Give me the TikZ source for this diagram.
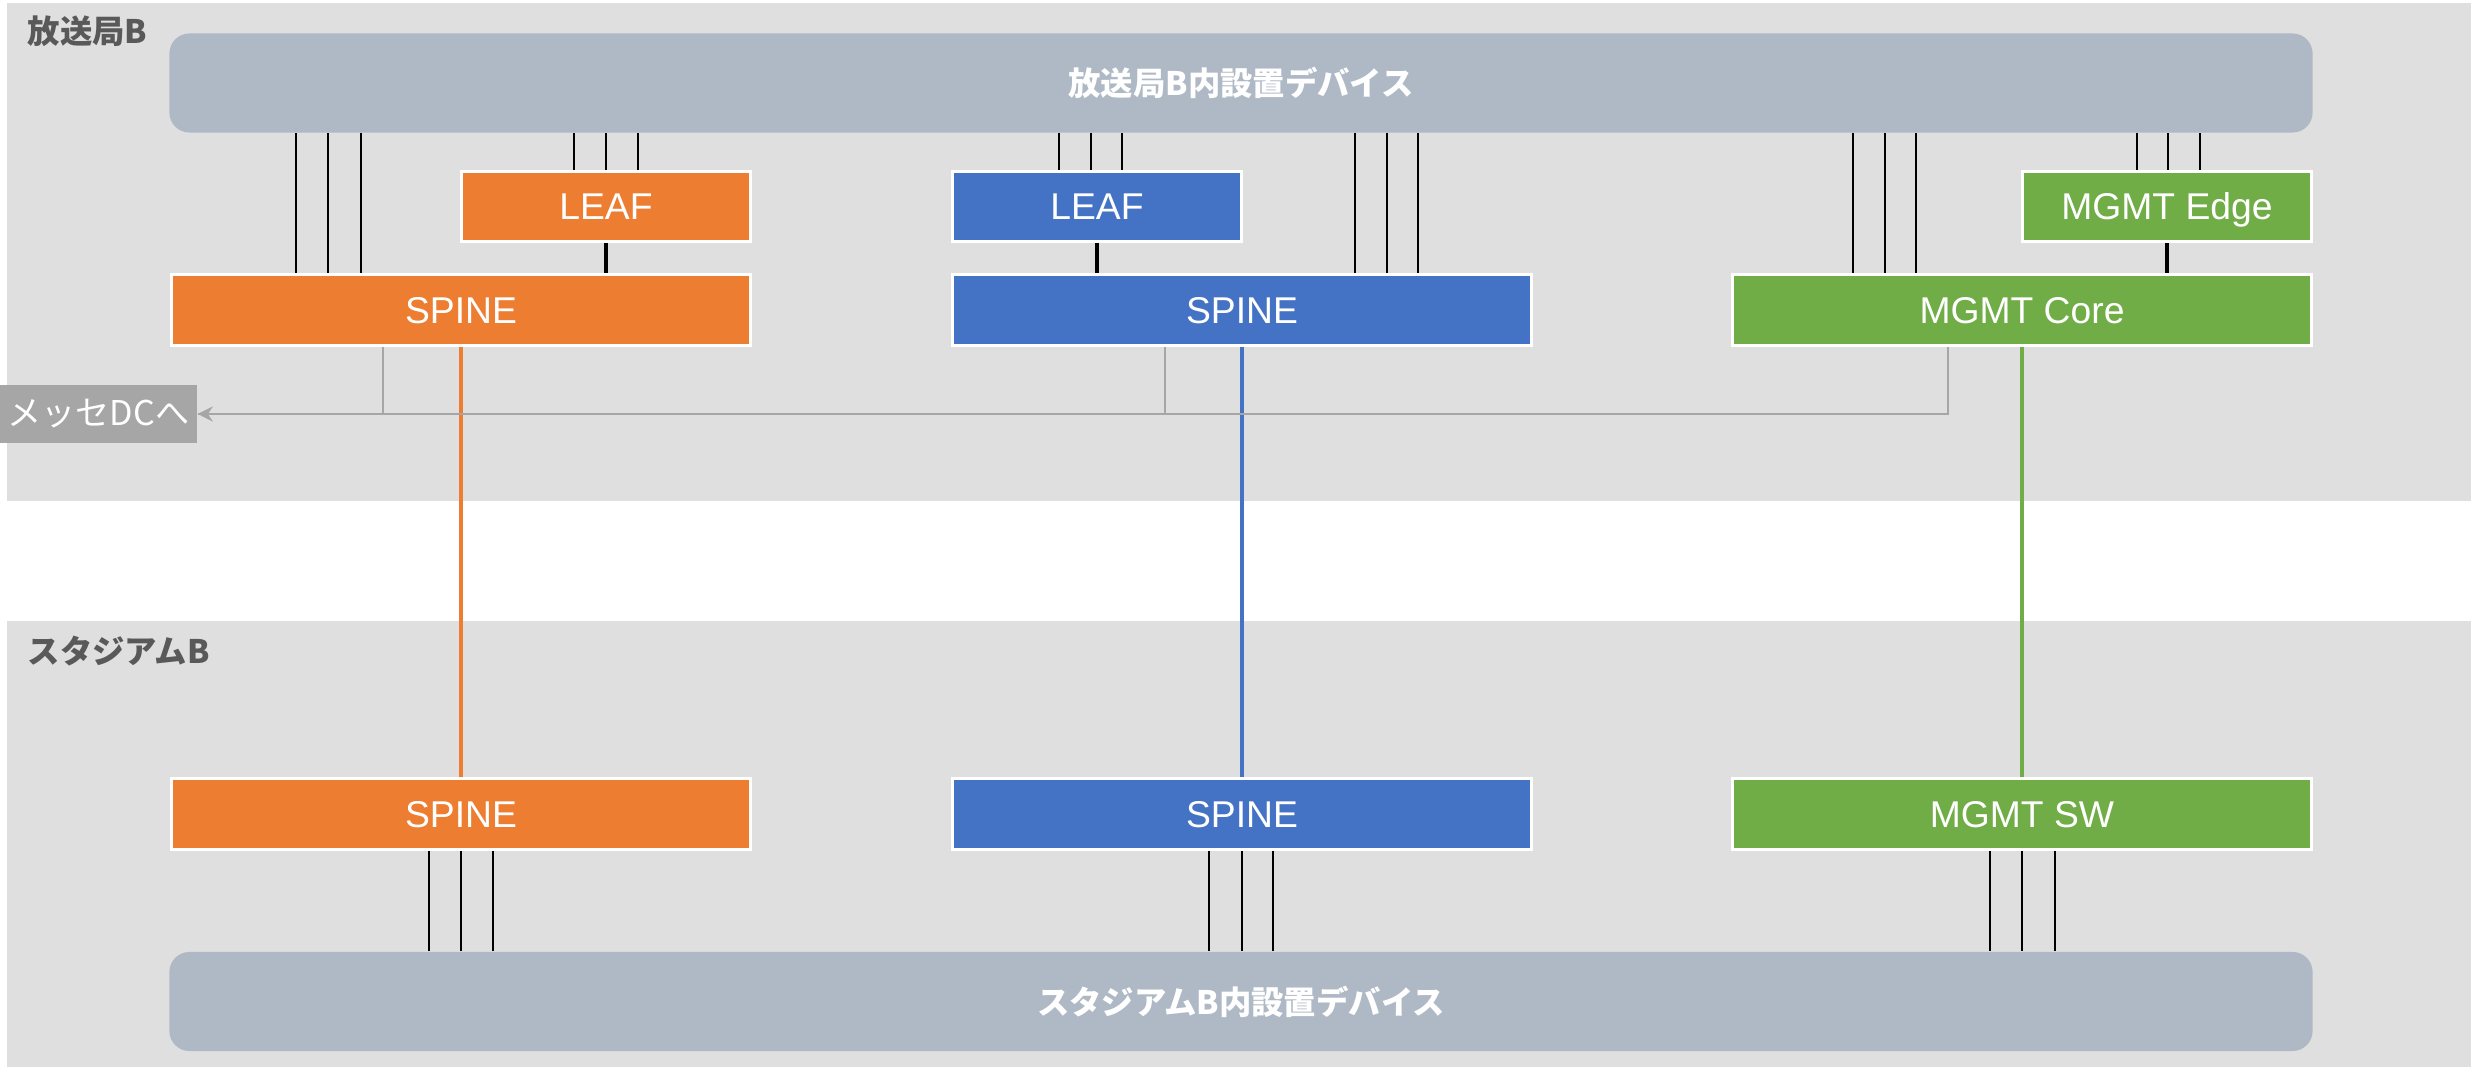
\documentclass[tikz,border=0pt]{standalone}
\usepackage{fontspec}
\setmainfont{Liberation Sans}
\newfontfamily\jp{Noto Sans CJK JP}
\usetikzlibrary{arrows.meta}
\definecolor{cOr}{HTML}{ED7D31}
\definecolor{cBl}{HTML}{4472C4}
\definecolor{cGr}{HTML}{70AD47}
\definecolor{cDev}{HTML}{AFB9C6}
\definecolor{cPanel}{HTML}{DFDFDF}
\definecolor{cTitle}{HTML}{595959}
\definecolor{cGray}{HTML}{A6A6A6}
\pgfdeclarelayer{panel}
\pgfdeclarelayer{links}
\pgfsetlayers{panel,links,main}
\begin{document}
\begin{tikzpicture}[x=0.01cm,y=-0.01cm,
  box/.style={draw=white, line width=0.03cm, text=white, inner sep=0pt,
    text height=7.6pt, text depth=0pt,
    font=\fontsize{10.6pt}{12pt}\selectfont},
  leafbox/.style={box, minimum width=2.88cm, minimum height=0.70cm},
  spinebox/.style={box, minimum width=5.79cm, minimum height=0.71cm},
  devbox/.style={fill=cDev, rounded corners=0.2cm, text=white, inner sep=0pt,
    minimum width=21.42cm, minimum height=0.99cm,
    font=\jp\bfseries\fontsize{9.2pt}{11pt}\selectfont},
  titletext/.style={anchor=west, inner sep=0pt, text=cTitle,
    font=\jp\bfseries\fontsize{9.2pt}{11pt}\selectfont},
  messebox/.style={fill=cGray, text=white, inner sep=0pt,
    minimum width=1.97cm, minimum height=0.58cm,
    font=\jp\fontsize{9.7pt}{11pt}\selectfont},
  blk/.style={draw=black, line width=0.02cm},
  thk/.style={draw=black, line width=0.045cm},
  vlink/.style={line width=0.035cm},
  glink/.style={draw=cGray, line width=0.028cm}
]
\useasboundingbox (0,0) rectangle (2471,1067);

% panels
\begin{pgfonlayer}{panel}
\fill[cPanel] (7,3) rectangle (2471,501);
\fill[cPanel] (7,621) rectangle (2471,1067);
\end{pgfonlayer}

\node[titletext] (t1) at (27,31) {放送局B};
\node[titletext] (t2) at (27,651) {スタジアムB};

% devices
\node[devbox] (dev1) at (1241,83) {放送局B内設置デバイス};
\node[devbox] (dev2) at (1241,1001.5) {スタジアムB内設置デバイス};

% top row
\node[leafbox, fill=cOr] (lo) at (606,206.5) {LEAF};
\node[leafbox, fill=cBl] (lb) at (1097,206.5) {LEAF};
\node[leafbox, fill=cGr] (le) at (2167,206.5) {MGMT Edge};

\node[spinebox, fill=cOr] (so1) at (461,310) {SPINE};
\node[spinebox, fill=cBl] (sb1) at (1242,310) {SPINE};
\node[spinebox, fill=cGr] (gc1) at (2022,310) {MGMT Core};

% bottom row
\node[spinebox, fill=cOr] (so2) at (461,814) {SPINE};
\node[spinebox, fill=cBl] (sb2) at (1242,814) {SPINE};
\node[spinebox, fill=cGr] (gs2) at (2022,814) {MGMT SW};

% messe
\node[messebox] (messe) at (98.5,414) {メッセDCへ};

\begin{pgfonlayer}{links}
\foreach \x in {296,328,361} \draw[blk] (dev1.south -| \x,0) -- (so1.north -| \x,0);
\foreach \x in {574,606,638} \draw[blk] (dev1.south -| \x,0) -- (lo.north -| \x,0);
\foreach \x in {1059,1091,1122} \draw[blk] (dev1.south -| \x,0) -- (lb.north -| \x,0);
\foreach \x in {1355,1387,1418} \draw[blk] (dev1.south -| \x,0) -- (sb1.north -| \x,0);
\foreach \x in {1853,1885,1916} \draw[blk] (dev1.south -| \x,0) -- (gc1.north -| \x,0);
\foreach \x in {2137,2168,2200} \draw[blk] (dev1.south -| \x,0) -- (le.north -| \x,0);

\draw[thk] (lo.south) -- (so1.north -| lo.south);
\draw[thk] (lb.south) -- (sb1.north -| lb.south);
\draw[thk] (le.south) -- (gc1.north -| le.south);

\draw[vlink, draw=cOr] (so1.south) -- (so2.north);
\draw[vlink, draw=cBl] (sb1.south) -- (sb2.north);
\draw[vlink, draw=cGr] (gc1.south) -- (gs2.north);

\draw[glink] (so1.south -| 383,0) |- (messe.east);
\draw[glink] (sb1.south -| 1165,0) |- (messe.east);
\draw[glink, -{Stealth[length=0.15cm, width=0.15cm]}] (gc1.south -| 1948,0) |- (messe.east);

\foreach \x in {429,461,493} \draw[blk] (so2.south -| \x,0) -- (dev2.north -| \x,0);
\foreach \x in {1209,1242,1273} \draw[blk] (sb2.south -| \x,0) -- (dev2.north -| \x,0);
\foreach \x in {1990,2022,2055} \draw[blk] (gs2.south -| \x,0) -- (dev2.north -| \x,0);
\end{pgfonlayer}
\end{tikzpicture}
\end{document}
